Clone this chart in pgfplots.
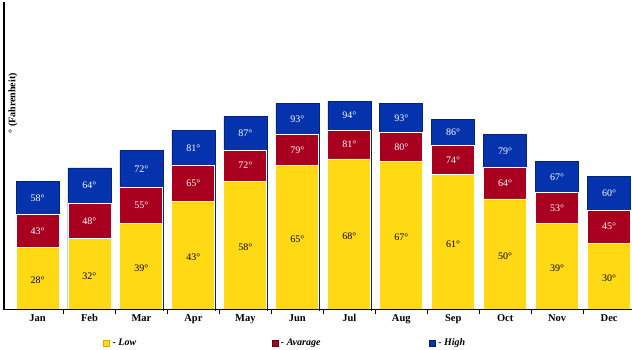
\documentclass[border=0pt]{standalone}
\usepackage{fontspec}
\setmainfont{Liberation Serif}
\usepackage{pgfplots}
\pgfplotsset{compat=1.18}
\usepackage{pgfplotstable}
\definecolor{cLow}{HTML}{FFDA14}
\definecolor{cAvg}{HTML}{A8001E}
\definecolor{cHigh}{HTML}{0533AD}

% bar heights as drawn (Apr low bar is drawn taller than its 43 label)
\pgfplotstableread{
x low lowlab avg high
0 28 28 43 58
1 32 32 48 64
2 39 39 55 72
3 49 43 65 81
4 58 58 72 87
5 65 65 79 93
6 68 68 81 94
7 67 67 80 93
8 61 61 74 86
9 50 50 64 79
10 39 39 53 67
11 30 30 45 60
}\temps

\begin{document}
\begin{tikzpicture}
\path[use as bounding box] (0,0) rectangle (632pt,350pt);
\begin{axis}[
  at={(4pt,40pt)}, anchor=south west,
  scale only axis, width=628pt, height=308pt,
  xmin=-0.645, xmax=11.44, ymin=0, ymax=138.7,
  axis lines=left, axis line style={-},
  x axis line style={line width=1pt},
  y axis line style={line width=1.6pt},
  axis on top, clip=false,
  xtick={0,...,11},
  xticklabels={Jan,Feb,Mar,Apr,May,Jun,Jul,Aug,Sep,Oct,Nov,Dec},
  minor xtick={0.5,1.5,...,10.5},
  major tick length=0pt, minor tick length=4pt,
  xtick align=outside,
  major x tick style={draw=none},
  minor x tick style={black, line width=0.8pt},
  ytick=\empty,
  xticklabel style={font=\bfseries\fontsize{10.5}{12}\selectfont, yshift=-1pt},
  ylabel={° (Fahrenheit)},
  ylabel style={at={(axis description cs:0.0143,0.671)}, anchor=center,
    font=\bfseries\fontsize{10}{12}\selectfont},
  legend columns=3,
  legend image code/.code={\draw[#1] (0pt,-3pt) rectangle (6pt,3pt);},
  legend style={at={(axis description cs:0.1576,-0.107)}, anchor=west,
    draw=none, fill=none, inner sep=0pt,
    font=\bfseries\itshape\fontsize{10}{12}\selectfont,
    nodes={inner xsep=3pt, inner ysep=1pt},
    /tikz/every odd column/.style={column sep=0pt},
    /tikz/every even column/.style={column sep=0pt}},
  every node near coord/.style={anchor=center, font=\fontsize{10}{11}\selectfont},
]
\addplot[ybar, bar width=43pt, bar shift=0pt, fill=cHigh, draw=cHigh!70!black, line width=0.6pt, forget plot]
  table[x=x, y=high]{\temps};
\addplot[ybar, bar width=43pt, bar shift=0pt, fill=cAvg, draw=white, line width=0.9pt, forget plot]
  table[x=x, y=avg]{\temps};
\addplot[ybar, bar width=43pt, bar shift=0pt, fill=cLow, draw=white, line width=0.9pt, forget plot]
  table[x=x, y=low]{\temps};

\addplot[draw=none, forget plot, point meta=explicit symbolic,
  nodes near coords={\pgfplotspointmeta°},
  every node near coord/.append style={text=black, yshift=-1.5pt}]
  table[x=x, y expr=\thisrow{low}/2, meta=lowlab]{\temps};
\addplot[draw=none, forget plot, point meta=explicit symbolic,
  nodes near coords={\pgfplotspointmeta°},
  every node near coord/.append style={text=white}]
  table[x=x, y expr=(\thisrow{low}+\thisrow{avg})/2, meta=avg]{\temps};
\addplot[draw=none, forget plot, point meta=explicit symbolic,
  nodes near coords={\pgfplotspointmeta°},
  every node near coord/.append style={text=white}]
  table[x=x, y expr=(\thisrow{avg}+\thisrow{high})/2, meta=high]{\temps};

\addlegendimage{fill=cLow, draw=cLow!80!black}
\addlegendentry{\makebox[156pt][l]{- Low}}
\addlegendimage{fill=cAvg, draw=cAvg!60!black}
\addlegendentry{\makebox[145pt][l]{- Avarage}}
\addlegendimage{fill=cHigh, draw=cHigh!60!black}
\addlegendentry{\makebox[40pt][l]{- High}}
\end{axis}
\end{tikzpicture}
\end{document}
